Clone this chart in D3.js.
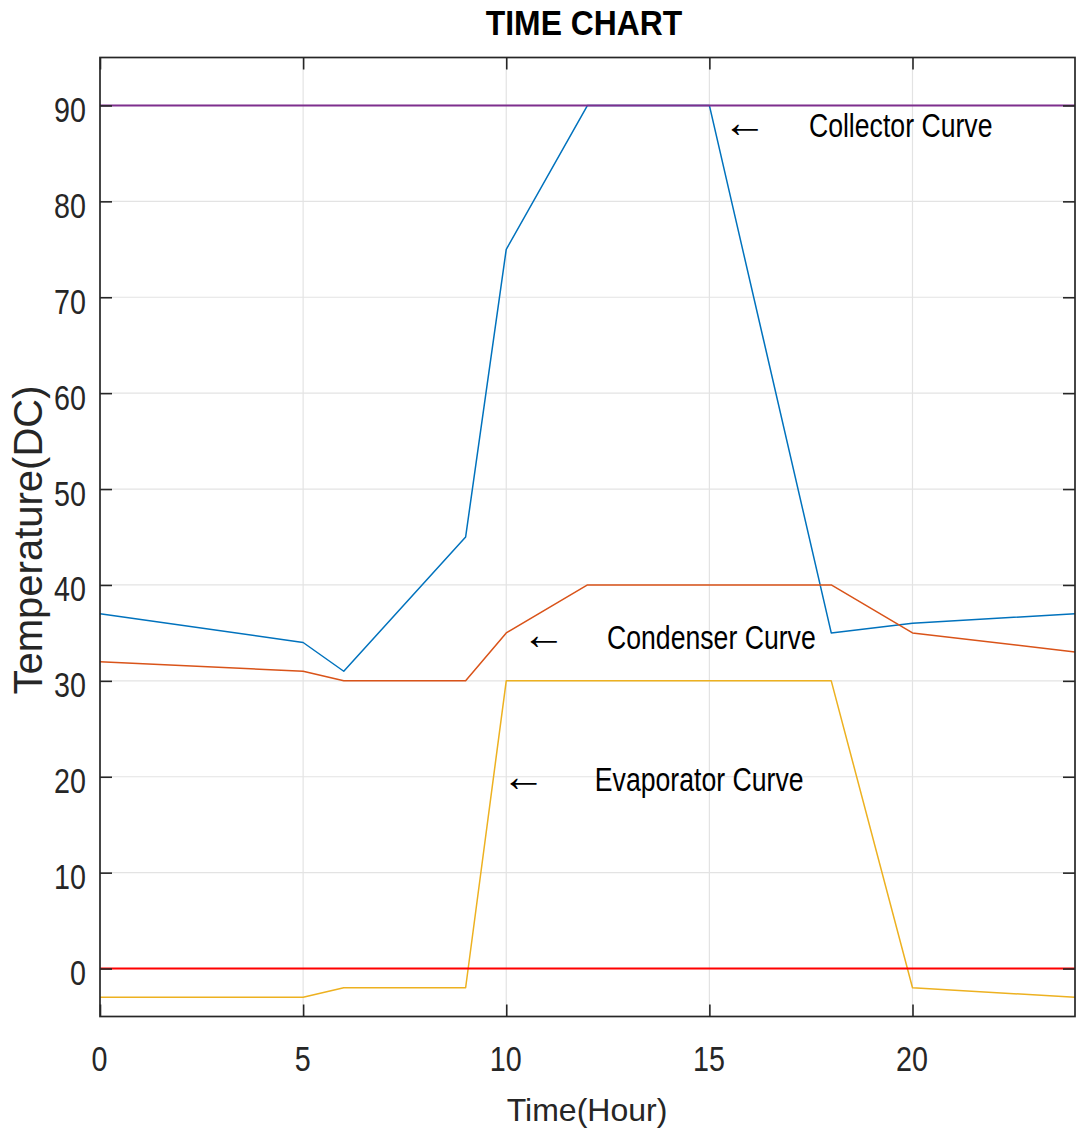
<!DOCTYPE html>
<html>
<head>
<meta charset="utf-8">
<script src="https://cdn.jsdelivr.net/npm/d3@7"></script>
<style>
  html, body { margin: 0; padding: 0; background: #fff; }
  svg { display: block; }
</style>
</head>
<body>
<svg id="chart" width="1076" height="1135"></svg>
<script>
// ---- data ----
const collectorHours = [0, 5, 6, 9, 10, 12, 15, 18, 20, 24];
const collectorTemps = [37, 34, 31, 45, 75, 90, 90, 35, 36, 37];
const condenserHours = [0, 5, 6, 9, 10, 12, 18, 20, 24];
const condenserTemps = [32, 31, 30, 30, 35, 40, 40, 35, 33];
const evaporatorHours = [0, 5, 6, 9, 10, 18, 20, 24];
const evaporatorTemps = [-3, -3, -2, -2, 30, 30, -2, -3];
const upperLimitHours = [0, 24];
const upperLimitTemps = [90, 90];
const zeroLineHours = [0, 24];
const zeroLineTemps = [0, 0];
const xTicks = [0, 5, 10, 15, 20];
const yTicks = [0, 10, 20, 30, 40, 50, 60, 70, 80, 90];
const annotationLabels = ["Collector Curve", "Condenser Curve", "Evaporator Curve"];
const annotationArrowX = [15.33, 10.38, 9.88];
const annotationArrowY = [87.5, 34.2, 19.3];
const annotationTextX = [17.45, 12.48, 12.18];

const svg = d3.select("#chart");
const x = d3.scaleLinear().domain([0, 24]).range([100, 1075]);
const y = d3.scaleLinear().domain([-5, 95]).range([1016.5, 57.5]);

const regular = "'Liberation Sans', Arial, Helvetica, sans-serif";
const squeeze = 0.82;

// grid
const g = svg.append("g");
g.selectAll(".vgrid").data(xTicks.slice(1)).enter().append("line")
  .attr("x1", d => x(d)).attr("x2", d => x(d))
  .attr("y1", y(95)).attr("y2", y(-5))
  .attr("stroke", "#e3e3e3").attr("stroke-width", 1.2);
g.selectAll(".hgrid").data(yTicks).enter().append("line")
  .attr("x1", x(0)).attr("x2", x(24))
  .attr("y1", d => y(d)).attr("y2", d => y(d))
  .attr("stroke", "#e3e3e3").attr("stroke-width", 1.2);

// lines
const line = d3.line().x(d => x(d[0])).y(d => y(d[1]));
function draw(hours, temps, color, w) {
  svg.append("path")
    .datum(hours.map((h, i) => [h, temps[i]]))
    .attr("d", line)
    .attr("fill", "none")
    .attr("stroke", color)
    .attr("stroke-width", w)
    .attr("stroke-linejoin", "round");
}
draw(collectorHours, collectorTemps, "#0072BD", 1.5);
draw(condenserHours, condenserTemps, "#D95319", 1.5);
draw(evaporatorHours, evaporatorTemps, "#EDB120", 1.5);
draw(upperLimitHours, upperLimitTemps, "#7E2F8E", 2);
draw(zeroLineHours, zeroLineTemps, "#FF0000", 2);

// axes (box with inward ticks)
const axisColor = "#262626";
const tickLen = 12;
const xb = d3.axisBottom(x).tickValues(xTicks).tickSizeInner(-tickLen).tickSizeOuter(0);
const xt = d3.axisTop(x).tickValues(xTicks).tickSizeInner(-tickLen).tickSizeOuter(0).tickFormat("");
const yl = d3.axisLeft(y).tickValues(yTicks).tickSizeInner(-tickLen).tickSizeOuter(0);
const yr = d3.axisRight(y).tickValues(yTicks).tickSizeInner(-tickLen).tickSizeOuter(0).tickFormat("");

function styleAxis(sel) {
  sel.select(".domain").remove();
  sel.selectAll(".tick line").attr("stroke", axisColor).attr("stroke-width", 1.6);
  sel.selectAll(".tick text").attr("fill", axisColor).attr("font-family", regular).attr("font-size", 35);
}
const gxb = svg.append("g").attr("transform", `translate(0,${y(-5)})`).call(xb).call(styleAxis);
gxb.selectAll(".tick text")
  .attr("x", null).attr("y", null).attr("dy", null)
  .attr("transform", `translate(-1,54) scale(${squeeze},1)`);
svg.append("g").attr("transform", `translate(0,${y(95)})`).call(xt).call(styleAxis);
const gyl = svg.append("g").attr("transform", `translate(${x(0)},0)`).call(yl).call(styleAxis);
gyl.selectAll(".tick text")
  .attr("x", null).attr("y", null).attr("dy", null)
  .attr("transform", `translate(-14,16) scale(${squeeze},1)`);
svg.append("g").attr("transform", `translate(${x(24)},0)`).call(yr).call(styleAxis);

svg.append("rect")
  .attr("x", x(0)).attr("y", y(95))
  .attr("width", x(24) - x(0)).attr("height", y(-5) - y(95))
  .attr("fill", "none").attr("stroke", axisColor).attr("stroke-width", 1.7);

// annotations
annotationLabels.forEach((lab, i) => {
  svg.append("text")
    .attr("transform", `translate(${x(annotationArrowX[i])},${y(annotationArrowY[i]) + 8})`)
    .attr("font-family", "'Liberation Serif', 'DejaVu Serif', serif")
    .attr("font-size", 44)
    .attr("fill", "#000")
    .text("\u2190");
  svg.append("text")
    .attr("transform", `translate(${x(annotationTextX[i])},${y(annotationArrowY[i]) + 8}) scale(${squeeze},1)`)
    .attr("font-family", regular)
    .attr("font-size", 32.5)
    .attr("fill", "#000")
    .text(lab);
});

// title and axis labels
svg.append("text")
  .attr("transform", "translate(584,35) scale(0.91,1)")
  .attr("text-anchor", "middle")
  .attr("font-family", regular).attr("font-weight", "bold")
  .attr("font-size", 35).attr("fill", "#000")
  .text("TIME CHART");
svg.append("text")
  .attr("x", 587).attr("y", 1121)
  .attr("text-anchor", "middle")
  .attr("font-family", regular)
  .attr("font-size", 32).attr("fill", axisColor)
  .text("Time(Hour)");
svg.append("text")
  .attr("transform", "translate(42,540) rotate(-90)")
  .attr("text-anchor", "middle")
  .attr("font-family", regular)
  .attr("font-size", 40).attr("fill", axisColor)
  .text("Temperature(DC)");
</script>
</body>
</html>
